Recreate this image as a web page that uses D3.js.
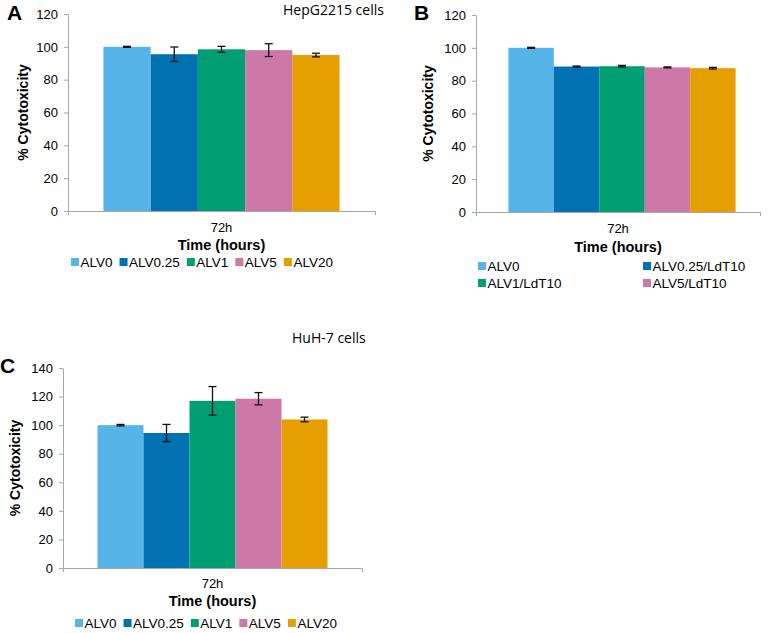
<!DOCTYPE html>
<html>
<head>
<meta charset="utf-8">
<script src="https://cdn.jsdelivr.net/npm/d3@7"></script>
<style>
  body { margin: 0; background: #fff; }
  svg { display: block; }
  .axis path, .axis line { stroke: #a6a6a6; }
  .axis text { font: 13px "Liberation Sans", Arial, sans-serif; fill: #000; }
</style>
</head>
<body>
<svg id="chart" width="772" height="633"></svg>
<script>
// Data
const timePoints = ['72h'];

const seriesA = ['ALV0', 'ALV0.25', 'ALV1', 'ALV5', 'ALV20'];
const valuesA = [100, 95.5, 98.5, 98, 95];
const errorsA = [0.3, 4.4, 1.8, 3.9, 1.1];

const seriesB = ['ALV0', 'ALV0.25/LdT10', 'ALV1/LdT10', 'ALV5/LdT10', 'ALV20/LdT10'];
const valuesB = [100, 88.6, 88.8, 88.1, 87.6];
const errorsB = [0.3, 0.3, 0.5, 0.3, 0.5];

const seriesC = ['ALV0', 'ALV0.25', 'ALV1', 'ALV5', 'ALV20'];
const valuesC = [100, 94.5, 117, 118.5, 104];
const errorsC = [0.5, 6, 10, 4.3, 1.6];

const yTicksAB = [0, 20, 40, 60, 80, 100, 120];
const yTicksC = [0, 20, 40, 60, 80, 100, 120, 140];

const colors = ['#56B4E9', '#0072B2', '#009E73', '#CC79A7', '#E69F00'];

const svg = d3.select('#chart');

const drawPanel = (cfg) => {
    const g = svg.append('g');

    const x = d3.scaleBand()
        .domain(timePoints)
        .range([cfg.left, cfg.right])
        .paddingInner(0)
        .paddingOuter(cfg.outer);

    const xs = d3.scaleBand()
        .domain(cfg.series)
        .range([0, x.bandwidth()])
        .padding(0);

    const y = d3.scaleLinear()
        .domain([0, d3.max(cfg.ticks)])
        .range([cfg.bottom, cfg.top]);

    // Axes
    g.append('g')
        .attr('class', 'axis')
        .attr('transform', `translate(${cfg.left},0)`)
        .call(d3.axisLeft(y).tickValues(cfg.ticks).tickSize(4).tickSizeOuter(0).tickPadding(6));

    g.append('g')
        .attr('class', 'axis')
        .attr('transform', `translate(0,${cfg.bottom})`)
        .call(d3.axisBottom(x).tickSize(0).tickSizeOuter(4).tickPadding(cfg.xPad));

    // Bars
    const rows = cfg.series.map((s, i) => ({
        name: s, value: cfg.values[i], err: cfg.errors[i], color: colors[i],
    }));

    const grp = g.append('g')
        .attr('transform', `translate(${x(timePoints[0]) + (cfg.shift || 0)},0)`);

    grp.selectAll('rect')
        .data(rows)
        .enter()
        .append('rect')
        .attr('x', (d) => xs(d.name))
        .attr('y', (d) => y(d.value))
        .attr('width', xs.bandwidth())
        .attr('height', (d) => cfg.bottom - y(d.value))
        .attr('fill', (d) => d.color);

    // Error bars
    const eb = grp.selectAll('.err')
        .data(rows)
        .enter()
        .append('g')
        .attr('class', 'err')
        .attr('transform', (d) => `translate(${xs(d.name) + xs.bandwidth() / 2},0)`)
        .attr('stroke', '#111')
        .attr('stroke-width', 1.3);

    eb.append('line')
        .attr('y1', (d) => y(d.value + d.err))
        .attr('y2', (d) => y(d.value - d.err));
    eb.append('line')
        .attr('x1', -4).attr('x2', 4)
        .attr('y1', (d) => y(d.value + d.err))
        .attr('y2', (d) => y(d.value + d.err));
    eb.append('line')
        .attr('x1', -4).attr('x2', 4)
        .attr('y1', (d) => y(d.value - d.err))
        .attr('y2', (d) => y(d.value - d.err));

    // Axis titles
    g.append('text')
        .attr('x', (cfg.left + cfg.right) / 2)
        .attr('y', cfg.xTitleY)
        .attr('text-anchor', 'middle')
        .style('font', 'bold 14.5px "Liberation Sans", Arial, sans-serif')
        .text('Time (hours)');

    g.append('text')
        .attr('transform', `translate(${cfg.yTitleX},${(cfg.top + cfg.bottom) / 2}) rotate(-90)`)
        .attr('text-anchor', 'middle')
        .attr('dominant-baseline', 'central')
        .style('font', 'bold 14px "Liberation Sans", Arial, sans-serif')
        .text('% Cytotoxicity');

    // Panel letter
    g.append('text')
        .attr('x', cfg.letterX)
        .attr('y', cfg.letterY)
        .style('font', 'bold 21px "Liberation Sans", Arial, sans-serif')
        .text(cfg.letter);

    // Cell title
    if (cfg.title) {
        g.append('text')
            .attr('x', cfg.titleX)
            .attr('y', cfg.titleY)
            .style('font', '14px "Open Sans", sans-serif')
            .text(cfg.title);
    }

    // Legend
    const legendRows = rows.slice(0, cfg.legendCount);
    const leg = g.append('g');
    let cursor = cfg.legendX;
    legendRows.forEach((d, i) => {
        let lx;
        let ly;
        if (cfg.legendCols) {
            lx = cfg.legendCols[i % 2];
            ly = cfg.legendY + Math.floor(i / 2) * 17;
        } else {
            lx = cursor;
            ly = cfg.legendY;
        }
        leg.append('rect')
            .attr('x', lx)
            .attr('y', ly - 9)
            .attr('width', 8)
            .attr('height', 8)
            .attr('fill', d.color);
        const t = leg.append('text')
            .attr('x', lx + 9.5)
            .attr('y', ly)
            .style('font', '13.5px "Liberation Sans", Arial, sans-serif')
            .text(d.name);
        cursor = lx + 9.5 + t.node().getComputedTextLength() + 7;
    });
};

drawPanel({
    letter: 'A', letterX: 7, letterY: 20,
    title: 'HepG2215 cells', titleX: 283, titleY: 15,
    series: seriesA, values: valuesA, errors: errorsA, ticks: yTicksAB,
    left: 68, right: 375, top: 14, bottom: 211, outer: 0.15, xPad: 12,
    xTitleY: 250, yTitleX: 23,
    legendX: 71, legendY: 267, legendCount: 5,
});

drawPanel({
    letter: 'B', letterX: 414, letterY: 20,
    series: seriesB, values: valuesB, errors: errorsB, ticks: yTicksAB,
    left: 476, right: 760, top: 15, bottom: 212, outer: 0.125, xPad: 12, shift: 4,
    xTitleY: 252, yTitleX: 428,
    legendCols: [478, 643], legendY: 271, legendCount: 4,
});

drawPanel({
    letter: 'C', letterX: 0, letterY: 373,
    title: 'HuH-7 cells', titleX: 292, titleY: 343,
    series: seriesC, values: valuesC, errors: errorsC, ticks: yTicksC,
    left: 63, right: 362, top: 368, bottom: 568, outer: 0.15, xPad: 11,
    xTitleY: 606, yTitleX: 15,
    legendX: 75, legendY: 628, legendCount: 5,
});
</script>
</body>
</html>
